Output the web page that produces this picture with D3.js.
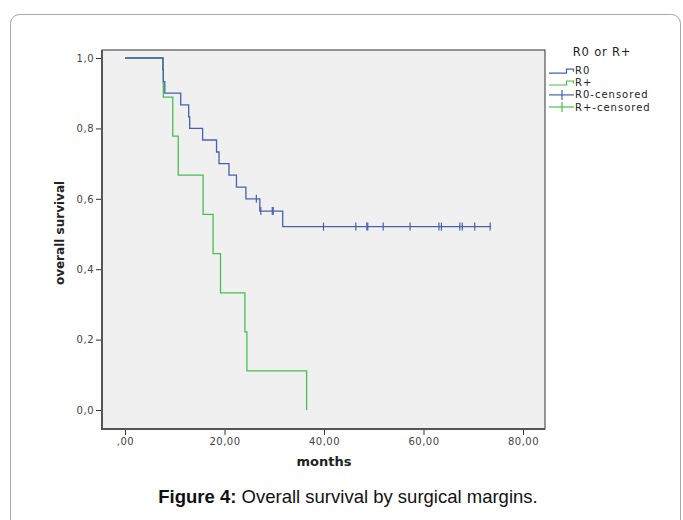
<!DOCTYPE html>
<html>
<head>
<meta charset="utf-8">
<script src="https://cdn.jsdelivr.net/npm/d3@7/dist/d3.min.js"></script>
<style>
body { margin: 0; background: #fff; }
text { font-family: "DejaVu Sans", Verdana, sans-serif; }
</style>
</head>
<body>
<svg id="chart" width="683" height="520"></svg>
<script>
// survival steps (time in months, survival after the event)
var r0Times = [0, 7.6, 7.7, 8.0, 11.2, 12.8, 13.0, 15.6, 18.4, 18.9, 20.9, 22.4, 24.3, 27.1, 31.7];
var r0Surv  = [1, 0.967, 0.933, 0.9, 0.867, 0.833, 0.8, 0.767, 0.733, 0.7, 0.667, 0.633, 0.6, 0.565, 0.521];
var r0End = 73.6;
var r0Censored = [26.4, 27.3, 29.6, 29.8, 39.9, 46.4, 48.6, 48.8, 51.9, 57.3, 63.1, 63.6, 67.3, 67.8, 70.3, 73.4];

var rpTimes = [0, 7.7, 9.6, 10.7, 15.7, 17.7, 19.2, 24.1, 24.5, 36.5];
var rpSurv  = [1, 0.889, 0.778, 0.667, 0.556, 0.444, 0.333, 0.222, 0.111, 0];
var rpEnd = 36.5;
var rpCensored = [];

var xTicks = [0, 20, 40, 60, 80];
var yTicks = [0, 0.2, 0.4, 0.6, 0.8, 1.0];
var legendLabels = ["R0", "R+", "R0-censored", "R+-censored"];

var blue = "#4661b2", green = "#45bf50";

var svg = d3.select("#chart");

// card border
svg.append("rect")
  .attr("x", 10.5).attr("y", 14.5)
  .attr("width", 670).attr("height", 530)
  .attr("rx", 9)
  .attr("fill", "#fff")
  .attr("stroke", "#a8a8a8");

var plot = {left: 102, right: 545, top: 50, bottom: 429};

var x = d3.scaleLinear().domain([0, 80]).range([125, 523]);
var y = d3.scaleLinear().domain([0, 1]).range([410, 58]);

svg.append("rect")
  .attr("x", plot.left).attr("y", plot.top)
  .attr("width", plot.right - plot.left).attr("height", plot.bottom - plot.top)
  .attr("fill", "#f0f0f0")
  .attr("stroke", "#333").attr("stroke-width", 1);

var fmt = function(d) { return d3.format(".1f")(d).replace(".", ","); };
var fmtX = function(d) { return d === 0 ? ",00" : d3.format(".2f")(d).replace(".", ","); };

var yAxis = svg.append("g")
  .attr("transform", "translate(" + plot.left + ",0)")
  .call(d3.axisLeft(y).tickValues(yTicks).tickFormat(fmt).tickSize(6).tickSizeOuter(0));
var xAxis = svg.append("g")
  .attr("transform", "translate(0," + plot.bottom + ")")
  .call(d3.axisBottom(x).tickValues(xTicks).tickFormat(fmtX).tickSize(6).tickSizeOuter(0));

[yAxis, xAxis].forEach(function(a) {
  a.select(".domain").remove();
  a.selectAll("line").attr("stroke", "#333");
  a.selectAll("text").attr("fill", "#444").style("font-size", "10px")
    .style("letter-spacing", "0.5px");
});
yAxis.selectAll("text").attr("x", -8);
xAxis.selectAll("text").attr("y", 9);

// heavier left and bottom axis lines
svg.append("line").attr("x1", plot.left).attr("x2", plot.left)
  .attr("y1", plot.top).attr("y2", plot.bottom + 1)
  .attr("stroke", "#555").attr("stroke-width", 2);
svg.append("line").attr("x1", plot.left).attr("x2", plot.right)
  .attr("y1", plot.bottom).attr("y2", plot.bottom)
  .attr("stroke", "#555").attr("stroke-width", 2);

function stepPath(times, surv, end) {
  var pts = [];
  for (var i = 0; i < times.length; i++) {
    if (i > 0) pts.push([x(times[i]), y(surv[i - 1])]);
    pts.push([x(times[i]), y(surv[i])]);
  }
  pts.push([x(end), y(surv[surv.length - 1])]);
  return d3.line()(pts);
}
function survAt(times, surv, t) {
  var i = d3.bisectRight(times, t) - 1;
  return surv[Math.max(0, i)];
}

svg.append("path").attr("d", stepPath(rpTimes, rpSurv, rpEnd))
  .attr("fill", "none").attr("stroke", green).attr("stroke-width", 1.3);
svg.append("path").attr("d", stepPath(r0Times, r0Surv, r0End))
  .attr("fill", "none").attr("stroke", blue).attr("stroke-width", 1.3);

svg.selectAll(".cens0").data(r0Censored).enter().append("line")
  .attr("x1", function(d) { return x(d); }).attr("x2", function(d) { return x(d); })
  .attr("y1", function(d) { return y(survAt(r0Times, r0Surv, d)) - 4; })
  .attr("y2", function(d) { return y(survAt(r0Times, r0Surv, d)) + 4; })
  .attr("stroke", blue).attr("stroke-width", 1.2);
svg.selectAll(".cens1").data(rpCensored).enter().append("line")
  .attr("x1", function(d) { return x(d); }).attr("x2", function(d) { return x(d); })
  .attr("y1", function(d) { return y(survAt(rpTimes, rpSurv, d)) - 4; })
  .attr("y2", function(d) { return y(survAt(rpTimes, rpSurv, d)) + 4; })
  .attr("stroke", green).attr("stroke-width", 1.2);

// axis titles
svg.append("text").attr("x", 324).attr("y", 466)
  .attr("text-anchor", "middle").attr("font-weight", "bold")
  .style("font-size", "13px").attr("fill", "#222").text("months");
svg.append("text")
  .attr("transform", "translate(64,233) rotate(-90)")
  .attr("text-anchor", "middle").attr("font-weight", "bold")
  .style("font-size", "12px").attr("fill", "#222").text("overall survival");

// legend
var lg = svg.append("g");
lg.append("text").attr("x", 602).attr("y", 56).attr("text-anchor", "middle")
  .style("font-size", "11.5px").style("letter-spacing", "0.8px")
  .attr("fill", "#222").text("R0 or R+");
var legendColors = [blue, green, blue, green];
var legendRows = [70.7, 82.5, 94.9, 107];
legendLabels.forEach(function(lab, i) {
  var cy = legendRows[i];
  var c = legendColors[i];
  if (i < 2) {
    lg.append("path")
      .attr("d", "M549," + (cy + 2.5) + "H566.5V" + (cy - 1.5) + "H573.5V" + (cy + 1))
      .attr("fill", "none").attr("stroke", c).attr("stroke-width", 1.2);
  } else {
    lg.append("line").attr("x1", 549).attr("x2", 574).attr("y1", cy).attr("y2", cy)
      .attr("stroke", c).attr("stroke-width", 1.2);
    lg.append("line").attr("x1", 562).attr("x2", 562).attr("y1", cy - 5).attr("y2", cy + 5)
      .attr("stroke", c).attr("stroke-width", 1.2);
  }
  lg.append("text").attr("x", 575).attr("y", cy + 3.5)
    .style("font-size", "10px").style("letter-spacing", "1px")
    .attr("fill", "#222").text(lab);
});

// caption
var cap = svg.append("text").attr("x", 348).attr("y", 503).attr("text-anchor", "middle")
  .style("font-family", "'Liberation Sans', Arial, sans-serif").style("font-size", "18.5px").attr("fill", "#111");
cap.append("tspan").attr("font-weight", "bold").text("Figure 4:");
cap.append("tspan").text(" Overall survival by surgical margins.");
</script>
</body>
</html>
